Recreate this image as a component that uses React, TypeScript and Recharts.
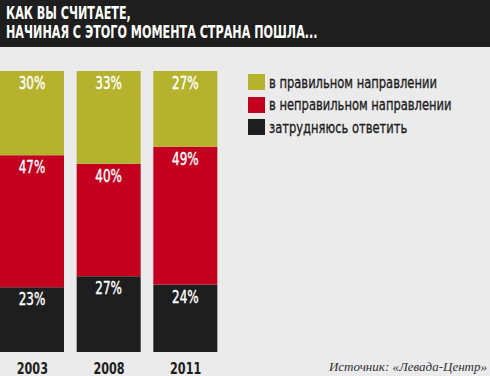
import React from "react";
import { BarChart, Bar, XAxis, YAxis, LabelList } from "recharts";

const years = ["2003", "2008", "2011"];
const hard = [23, 27, 24];
const wrong = [47, 40, 49];
const right = [30, 33, 27];
const seriesNames = ["в правильном направлении", "в неправильном направлении", "затрудняюсь ответить"];
const titleLines = ["КАК ВЫ СЧИТАЕТЕ,", "НАЧИНАЯ С ЭТОГО МОМЕНТА СТРАНА ПОШЛА..."];
const source = "Источник: «Левада-Центр»";

const data = years.map((y, i) => ({ year: y, hard: hard[i], wrong: wrong[i], right: right[i] }));

const C_RIGHT = "#b5b22e";
const C_WRONG = "#c4001f";
const C_HARD = "#1e1e1e";
const BG = "#ebebeb";
const NARROW = "'DejaVu Sans Condensed', 'Liberation Sans Narrow', 'Noto Sans', sans-serif";

const SegLabel = (props: any) => {
  const { x, y, width, value } = props;
  return (
    <text
      transform={`translate(${x + width / 2}, ${y + 18}) scale(0.74, 1)`}
      fill="#fff"
      stroke="#fff"
      strokeWidth={0.4}
      fontSize={18}
      textAnchor="middle"
      fontFamily={NARROW}
    >
      {value}%
    </text>
  );
};

const YearTick = (props: any) => {
  const { x, y, payload } = props;
  return (
    <text
      transform={`translate(${x}, ${y + 14}) scale(0.78, 1)`}
      fill="#1e1e1e"
      fontSize={16}
      fontWeight="bold"
      textAnchor="middle"
      fontFamily={NARROW}
    >
      {payload.value}
    </text>
  );
};

const colors = [C_RIGHT, C_WRONG, C_HARD];

export default function App() {
  return (
    <div style={{ position: "absolute", left: 0, top: 0, width: 490, height: 376, background: BG, overflow: "hidden" }}>
      <div style={{ position: "absolute", left: -6, top: 0 }}>
        <BarChart width={496} height={376} data={data} margin={{ top: 71, right: 266, bottom: 0, left: 0 }} barSize={64}>
          <XAxis dataKey="year" axisLine={false} tickLine={false} height={24} tick={<YearTick />} interval={0} />
          <YAxis hide domain={[0, 100]} />
          <Bar dataKey="hard" stackId="a" fill={C_HARD} isAnimationActive={false}>
            <LabelList dataKey="hard" content={<SegLabel />} />
          </Bar>
          <Bar dataKey="wrong" stackId="a" fill={C_WRONG} isAnimationActive={false}>
            <LabelList dataKey="wrong" content={<SegLabel />} />
          </Bar>
          <Bar dataKey="right" stackId="a" fill={C_RIGHT} isAnimationActive={false}>
            <LabelList dataKey="right" content={<SegLabel />} />
          </Bar>
        </BarChart>
      </div>
      <div style={{ position: "absolute", left: 248, top: 71, fontFamily: NARROW, fontSize: 16, color: "#1e1e1e", whiteSpace: "nowrap", WebkitTextStroke: "0.35px #1e1e1e" } as any}>
        {seriesNames.map((n, i) => (
          <div key={n} style={{ display: "flex", alignItems: "center", height: 22.5 }}>
            <div style={{ width: 17, height: 16, background: colors[i], marginRight: 4, flex: "none" }} />
            <span style={{ display: "inline-block", transform: "scaleX(0.8)", transformOrigin: "left center" }}>{n}</span>
          </div>
        ))}
      </div>
      <div style={{ position: "absolute", left: 0, top: 0, width: 490, height: 47, background: "#1e1e1e", color: "#fff", fontFamily: NARROW, fontWeight: "bold", fontSize: 18, lineHeight: "19px", padding: "3px 0 0 6px", boxSizing: "border-box", whiteSpace: "nowrap" }}>
        {titleLines.map((l) => (
          <div key={l} style={{ transform: "scaleX(0.69)", transformOrigin: "left center" }}>{l}</div>
        ))}
      </div>
      <div style={{ position: "absolute", right: 3, top: 359, fontFamily: "'Liberation Serif', 'DejaVu Serif', serif", fontStyle: "italic", fontSize: 13, color: "#333" }}>
        {source}
      </div>
    </div>
  );
}
